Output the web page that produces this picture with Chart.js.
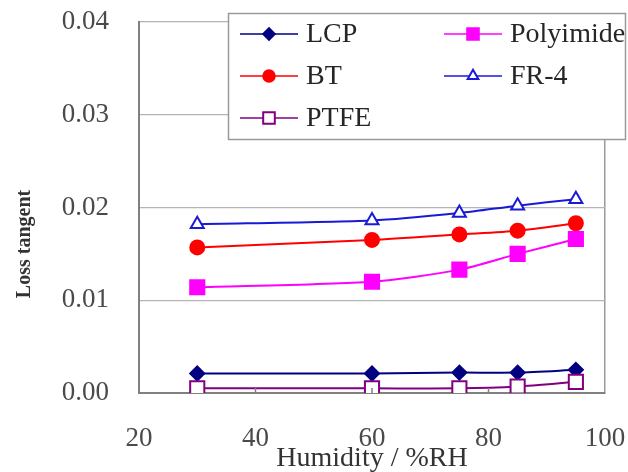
<!DOCTYPE html>
<html>
<head>
<meta charset="utf-8">
<title>Loss tangent vs humidity</title>
<script src="https://cdn.jsdelivr.net/npm/chart.js@4/dist/chart.umd.min.js"></script>
<style>
    html, body { margin: 0; padding: 0; background: #ffffff; }
    #chart { display: block; }
</style>
</head>
<body>
<canvas id="chart" width="628" height="472"></canvas>
<script>
    'use strict';

    // humidity (%RH) where each sample was measured
    var humidity = [30, 60, 75, 85, 95];

    // loss tangent per material
    var lcp = [0.0021, 0.0021, 0.0022, 0.0022, 0.0025];
    var bt = [0.0157, 0.0165, 0.0171, 0.0175, 0.0183];
    var ptfe = [0.0005, 0.0005, 0.0005, 0.0007, 0.0012];
    var polyimide = [0.0114, 0.0120, 0.0133, 0.0150, 0.0166];
    var fr4 = [0.0182, 0.0186, 0.0194, 0.0202, 0.0209];

    var xTicks = [20, 40, 60, 80, 100];
    var yTicks = [0.00, 0.01, 0.02, 0.03, 0.04];

    var SERIF = '"Liberation Serif", "DejaVu Serif", serif';

    function toPoints(values) {
        return values.map(function (v, i) {
            return { x: humidity[i], y: v };
        });
    }

    function series(label, values, color, style, radius, fill) {
        return {
            label: label,
            data: toPoints(values),
            borderColor: color,
            backgroundColor: fill,
            borderWidth: 2,
            pointStyle: style,
            pointRadius: radius,
            pointHoverRadius: radius,
            pointBorderColor: color,
            pointBackgroundColor: fill,
            pointBorderWidth: 2,
            tension: 0.25
        };
    }

    var datasets = [
        series('PTFE', ptfe, '#800080', 'rect', 10, '#ffffff'),
        series('LCP', lcp, '#000080', 'rectRot', 7, '#000080'),
        series('Polyimide', polyimide, '#ff00ff', 'rect', 10, '#ff00ff'),
        series('BT', bt, '#ff0000', 'circle', 7, '#ff0000'),
        series('FR-4', fr4, '#1a1ad6', 'triangle', 7.5, '#ffffff')
    ];

    // legend layout in the original: two columns, filled column by column
    var legendItems = [
        { label: 'LCP', col: 0, row: 0 },
        { label: 'BT', col: 0, row: 1 },
        { label: 'PTFE', col: 0, row: 2 },
        { label: 'Polyimide', col: 1, row: 0 },
        { label: 'FR-4', col: 1, row: 1 }
    ];

    /**
     * Boxed legend sitting over the top right of the plot, plus axis titles
     */
    var framePlugin = {
        id: 'frame',
        afterDraw: function (chart) {
            var ctx = chart.ctx;
            var area = chart.chartArea;
            var xs = chart.scales.x;

            ctx.save();

            // small inward tick marks on the humidity axis
            ctx.strokeStyle = '#808080';
            ctx.lineWidth = 1.5;
            [40, 60, 80].forEach(function (v) {
                var px = xs.getPixelForValue(v);
                ctx.beginPath();
                ctx.moveTo(px, area.bottom);
                ctx.lineTo(px, area.bottom - 5);
                ctx.stroke();
            });

            // axis titles
            ctx.fillStyle = '#333333';
            ctx.textAlign = 'center';
            ctx.textBaseline = 'middle';
            ctx.font = '28px ' + SERIF;
            ctx.fillText('Humidity / %RH', (area.left + area.right) / 2, 459);

            ctx.save();
            ctx.translate(25, 244);
            ctx.rotate(-Math.PI / 2);
            ctx.font = 'bold 20px ' + SERIF;
            ctx.fillText('Loss tangent', 0, 0);
            ctx.restore();

            // legend box
            var box = { left: 228.5, top: 13.5, width: 397, height: 126 };
            ctx.fillStyle = '#ffffff';
            ctx.fillRect(box.left, box.top, box.width, box.height);
            ctx.strokeStyle = '#9a9a9a';
            ctx.lineWidth = 1.5;
            ctx.strokeRect(box.left, box.top, box.width, box.height);

            ctx.font = '28px ' + SERIF;
            ctx.textAlign = 'left';
            legendItems.forEach(function (item) {
                var ds = chart.data.datasets.filter(function (d) {
                    return d.label === item.label;
                })[0];
                var x0 = item.col === 0 ? 240 : 444;
                var y = 34 + item.row * 42;

                ctx.strokeStyle = ds.borderColor;
                ctx.lineWidth = 1.5;
                ctx.beginPath();
                ctx.moveTo(x0, y);
                ctx.lineTo(x0 + 58, y);
                ctx.stroke();

                ctx.fillStyle = ds.pointBackgroundColor;
                ctx.strokeStyle = ds.pointBorderColor;
                ctx.lineWidth = 2;
                Chart.helpers.drawPoint(ctx, {
                    pointStyle: ds.pointStyle,
                    radius: ds.pointRadius * 0.82,
                    rotation: 0,
                    borderWidth: 2
                }, x0 + 29, y);

                ctx.fillStyle = '#262626';
                ctx.fillText(item.label, x0 + 66, y + 1);
            });

            ctx.restore();
        }
    };

    new Chart(document.getElementById('chart'), {
        type: 'line',
        data: { datasets: datasets },
        plugins: [framePlugin],
        options: {
            responsive: false,
            animation: false,
            layout: { padding: { left: 0, right: 23, top: 22, bottom: 0 } },
            plugins: {
                legend: { display: false },
                tooltip: { enabled: false }
            },
            scales: {
                x: {
                    type: 'linear',
                    min: xTicks[0],
                    max: xTicks[xTicks.length - 1],
                    afterBuildTicks: function (scale) {
                        scale.ticks = xTicks.map(function (v) { return { value: v }; });
                    },
                    afterFit: function (scale) {
                        scale.height = 79;
                        scale.paddingLeft = 0;
                        scale.paddingRight = 0;
                    },
                    border: { color: '#808080', width: 2 },
                    grid: {
                        drawTicks: false,
                        lineWidth: 1.5,
                        color: function (c) {
                            return c.tick && c.tick.value === 100 ? '#9a9a9a' : 'rgba(0,0,0,0)';
                        }
                    },
                    ticks: {
                        padding: 30,
                        color: '#4a4a4a',
                        font: { family: SERIF, size: 27 }
                    }
                },
                y: {
                    min: yTicks[0],
                    max: yTicks[yTicks.length - 1],
                    afterBuildTicks: function (scale) {
                        scale.ticks = yTicks.map(function (v) { return { value: v }; });
                    },
                    afterFit: function (scale) {
                        scale.width = 139;
                        scale.paddingTop = 0;
                        scale.paddingBottom = 0;
                    },
                    border: { color: '#808080', width: 2 },
                    grid: {
                        drawTicks: false,
                        lineWidth: 1.2,
                        color: '#b4b4b4'
                    },
                    ticks: {
                        padding: 30,
                        color: '#4a4a4a',
                        font: { family: SERIF, size: 27 },
                        callback: function (v) { return Number(v).toFixed(2); }
                    }
                }
            }
        }
    });
</script>
</body>
</html>
